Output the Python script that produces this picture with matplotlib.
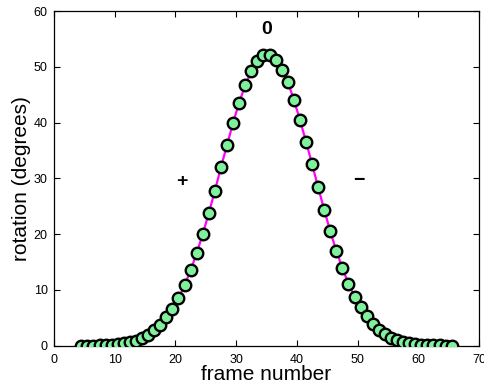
import matplotlib
matplotlib.use("Agg")
import matplotlib.pyplot as plt

plt.rcParams['font.family'] = ['Liberation Sans', 'DejaVu Sans']

# frame numbers and measured rotation (degrees)
frames = [4.5, 5.5, 6.5, 7.5, 8.5, 9.5, 10.5, 11.5, 12.5, 13.5,
          14.5, 15.5, 16.5, 17.5, 18.5, 19.5, 20.5, 21.5, 22.5, 23.5,
          24.5, 25.5, 26.5, 27.5, 28.5, 29.5, 30.5, 31.5, 32.5, 33.5,
          34.5, 35.5, 36.5, 37.5, 38.5, 39.5, 40.5, 41.5, 42.5, 43.5,
          44.5, 45.5, 46.5, 47.5, 48.5, 49.5, 50.5, 51.5, 52.5, 53.5,
          54.5, 55.5, 56.5, 57.5, 58.5, 59.5, 60.5, 61.5, 62.5, 63.5,
          64.5, 65.5]
rotation = [0.0, 0.01, 0.03, 0.05, 0.1, 0.15, 0.25, 0.4, 0.6, 0.9,
            1.3, 1.9, 2.75, 3.8, 5.1, 6.55, 8.5, 10.8, 13.5, 16.6,
            20.0, 23.8, 27.8, 32.0, 36.0, 40.0, 43.6, 46.7, 49.2, 51.1,
            52.1, 52.2, 51.3, 49.5, 47.3, 44.1, 40.5, 36.6, 32.6, 28.4,
            24.4, 20.5, 17.0, 13.9, 11.1, 8.8, 6.9, 5.25, 3.9, 2.8,
            2.05, 1.4, 1.0, 0.7, 0.45, 0.3, 0.2, 0.12, 0.08, 0.05,
            0.03, 0.0]

annotations = [("0", 35.1, 56.7), ("+", 21.1, 29.4), ("\u2212", 50.2, 29.6)]

fig = plt.figure(figsize=(4.84, 3.88), dpi=100)
ax = fig.add_axes([0.1116, 0.109, 0.8781, 0.8626])

ax.plot(frames, rotation, color='#ff00ff', lw=1.6, zorder=2)
ax.plot(frames, rotation, linestyle='none', marker='o', ms=8.3,
        mfc='#7ff09c', mec='black', mew=1.7, zorder=3)

for txt, x, y in annotations:
    ax.text(x, y, txt, fontsize=14, fontweight='bold', ha='center', va='center')

ax.set_xlim(0, 70)
ax.set_ylim(0, 60)
ax.set_xticks(range(0, 71, 10))
ax.set_yticks(range(0, 61, 10))
ax.tick_params(direction='in', top=True, right=True, labelsize=9, length=4, width=0.8)
ax.tick_params(axis='x', pad=6)
ax.tick_params(axis='y', pad=4.5)
for s in ax.spines.values():
    s.set_linewidth(0.9)

ax.set_xlabel('frame number', fontsize=15, labelpad=-1)
ax.set_ylabel('rotation (degrees)', fontsize=15, labelpad=2)

fig.savefig('out.png', dpi=100)
